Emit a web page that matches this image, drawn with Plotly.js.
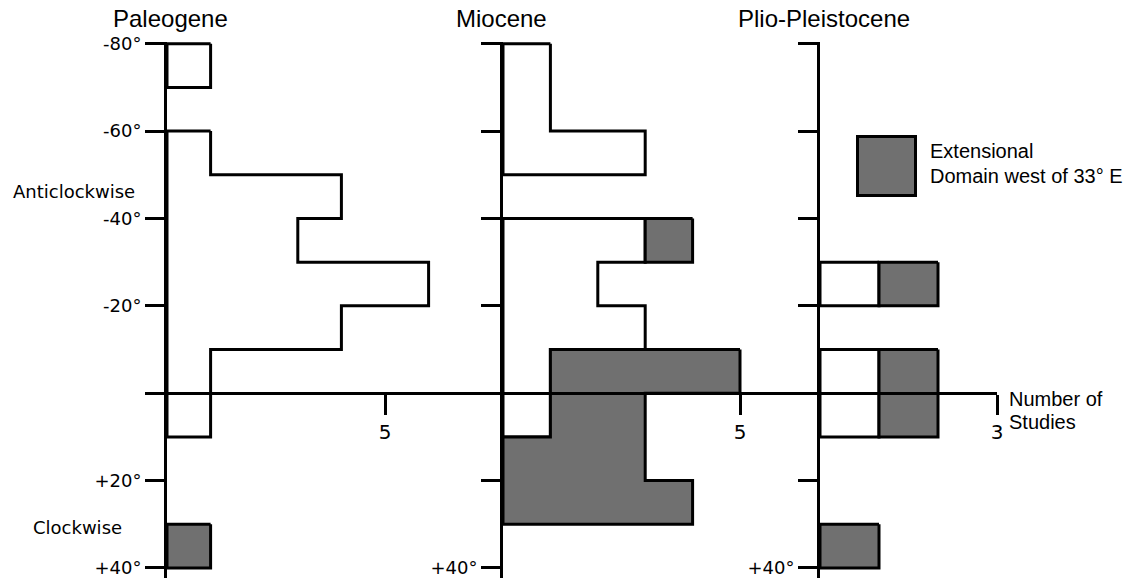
<!DOCTYPE html>
<html><head><meta charset="utf-8">
<script src="https://cdn.plot.ly/plotly-3.0.1.min.js"></script>
<style>html,body{margin:0;padding:0;background:#fff}#chart{width:1136px;height:582px}</style>
</head><body><div id="chart"></div>
<script>
// Rotation bins in degrees (negative = anticlockwise, positive = clockwise)
const binEdges = [-80,-70,-60,-50,-40,-30,-20,-10,0,10,20,30,40];
const periods = ['Paleogene','Miocene','Plio-Pleistocene'];
// Number of studies per bin: other domains (white) and Extensional Domain west of 33° E (grey)
const paleogeneOther = [1,0,1,4,3,6,4,1,1,0,0,0];
const paleogeneExt   = [0,0,0,0,0,0,0,0,0,0,0,1];
const mioceneOther   = [1,1,3,0,3,2,3,1,1,0,0,0];
const mioceneExt     = [0,0,0,0,1,0,0,4,2,3,4,0];
const plioOther      = [0,0,0,0,0,1,0,1,1,0,0,0];
const plioExt        = [0,0,0,0,0,1,0,1,1,0,0,1];
const yTickVals = [-80,-60,-40,-20,0,20,40];
const yTickTextFirst = ['-80°','-60°','-40°','-20°','','+20°','+40°'];
const yTickTextOther = ['','','','','','','+40°'];
const xTickVals = [[5],[5],[3]];
const legendText = ['Extensional','Domain west of 33° E'];
const sideLabels = ['Anticlockwise','Clockwise'];
const xAxisLabel = ['Number of','Studies'];

// ---- layout constants ----
const W = 1136, H = 582, T = 42, B = 4;
const yRange = [42.3, -80.4];
const panelPx = [[167, 503], [503, 820], [820, 997.1]];
const panelUnitPx = [43.6, 47.4, 59];
const GREY = '#707070';
const TICKFONT = 'DejaVu Sans, Verdana, sans-serif';
const TEXTFONT = 'Liberation Sans, Arial, Helvetica, sans-serif';

function runs(arr) {
  const r = []; let s = -1;
  for (let i = 0; i <= arr.length; i++) {
    const on = i < arr.length && arr[i] > 0;
    if (on && s < 0) s = i;
    if (!on && s >= 0) { r.push([s, i - 1]); s = -1; }
  }
  return r;
}
function stepPolys(left, right, active, xa, ya, color) {
  const out = [];
  runs(active).forEach(([s, e]) => {
    const xs = [], ys = [];
    for (let i = s; i <= e; i++) { xs.push(right[i], right[i]); ys.push(binEdges[i], binEdges[i + 1]); }
    for (let i = e; i >= s; i--) { xs.push(left[i], left[i]); ys.push(binEdges[i + 1], binEdges[i]); }
    xs.push(xs[0]); ys.push(ys[0]);
    out.push({type: 'scatter', mode: 'lines', x: xs, y: ys, xaxis: xa, yaxis: ya,
      fill: 'toself', fillcolor: color, line: {color: '#000', width: 3},
      hoverinfo: 'skip', showlegend: false});
  });
  return out;
}

const others = [paleogeneOther, mioceneOther, plioOther];
const exts = [paleogeneExt, mioceneExt, plioExt];
const traces = [];
const layout = {
  width: W, height: H, margin: {l: 0, r: 0, t: T, b: B},
  paper_bgcolor: '#fff', plot_bgcolor: 'rgba(0,0,0,0)',
  showlegend: false, annotations: [], shapes: []
};
const zeroPos = (0 - yRange[0]) / (yRange[1] - yRange[0]);

periods.forEach((p, k) => {
  const xa = k === 0 ? 'x' : 'x' + (k + 1);
  const ya = k === 0 ? 'y' : 'y' + (k + 1);
  const zeros = others[k].map(() => 0);
  const total = others[k].map((v, i) => v + exts[k][i]);
  traces.push(...stepPolys(zeros, others[k], others[k], xa, ya, '#ffffff'));
  traces.push(...stepPolys(others[k], total, exts[k], xa, ya, GREY));
  const [a, b] = panelPx[k];
  layout[k === 0 ? 'xaxis' : 'xaxis' + (k + 1)] = {
    domain: [a / W, b / W], range: [0, (b - a) / panelUnitPx[k]],
    anchor: 'free', position: zeroPos, side: 'bottom',
    showline: true, linecolor: '#000', linewidth: 3,
    showgrid: false, zeroline: false,
    tickmode: 'array', tickvals: xTickVals[k], ticks: 'outside', ticklen: 20, tickwidth: 3, tickcolor: '#000',
    tickfont: {family: TICKFONT, size: 20, color: '#000'}, fixedrange: true
  };
  layout[k === 0 ? 'yaxis' : 'yaxis' + (k + 1)] = {
    domain: [0, 1], anchor: xa, range: yRange,
    showline: true, linecolor: '#000', linewidth: 3,
    showgrid: false, zeroline: false,
    tickmode: 'array', tickvals: yTickVals, ticktext: k === 0 ? yTickTextFirst : yTickTextOther,
    ticks: 'outside', ticklen: 19, tickwidth: 3, tickcolor: '#000',
    tickfont: {family: TICKFONT, size: 18, color: '#000'}, fixedrange: true
  };
});

function px2x(px) { return px / W; }
function px2y(py) { return (H - B - py) / (H - T - B); }
function ann(text, px, py, size, family, xanchor) {
  return {text: text, x: px2x(px), y: px2y(py), xref: 'paper', yref: 'paper', showarrow: false,
    xanchor: xanchor || 'center', yanchor: 'middle', font: {size: size, family: family, color: '#000'}};
}
const titleCenters = [170, 501, 824];
periods.forEach((p, k) => layout.annotations.push(ann(p, titleCenters[k], 18, 24, TEXTFONT)));
layout.annotations.push(ann(sideLabels[0], 11, 191, 18, TICKFONT, 'left'));
layout.annotations.push(ann(sideLabels[1], 31, 527, 18, TICKFONT, 'left'));
layout.annotations.push(ann(legendText[0], 928, 151, 20, TEXTFONT, 'left'));
layout.annotations.push(ann(legendText[1], 928, 176, 20, TEXTFONT, 'left'));
layout.annotations.push(ann(xAxisLabel[0], 1007, 399, 20, TEXTFONT, 'left'));
layout.annotations.push(ann(xAxisLabel[1], 1007, 422, 20, TEXTFONT, 'left'));
layout.shapes.push({type: 'rect', xref: 'paper', yref: 'paper',
  x0: px2x(857.5), x1: px2x(915.5), y0: px2y(136.5), y1: px2y(195.5),
  fillcolor: GREY, line: {color: '#000', width: 3}});

Plotly.newPlot('chart', traces, layout, {staticPlot: true, displayModeBar: false});
</script></body></html>
